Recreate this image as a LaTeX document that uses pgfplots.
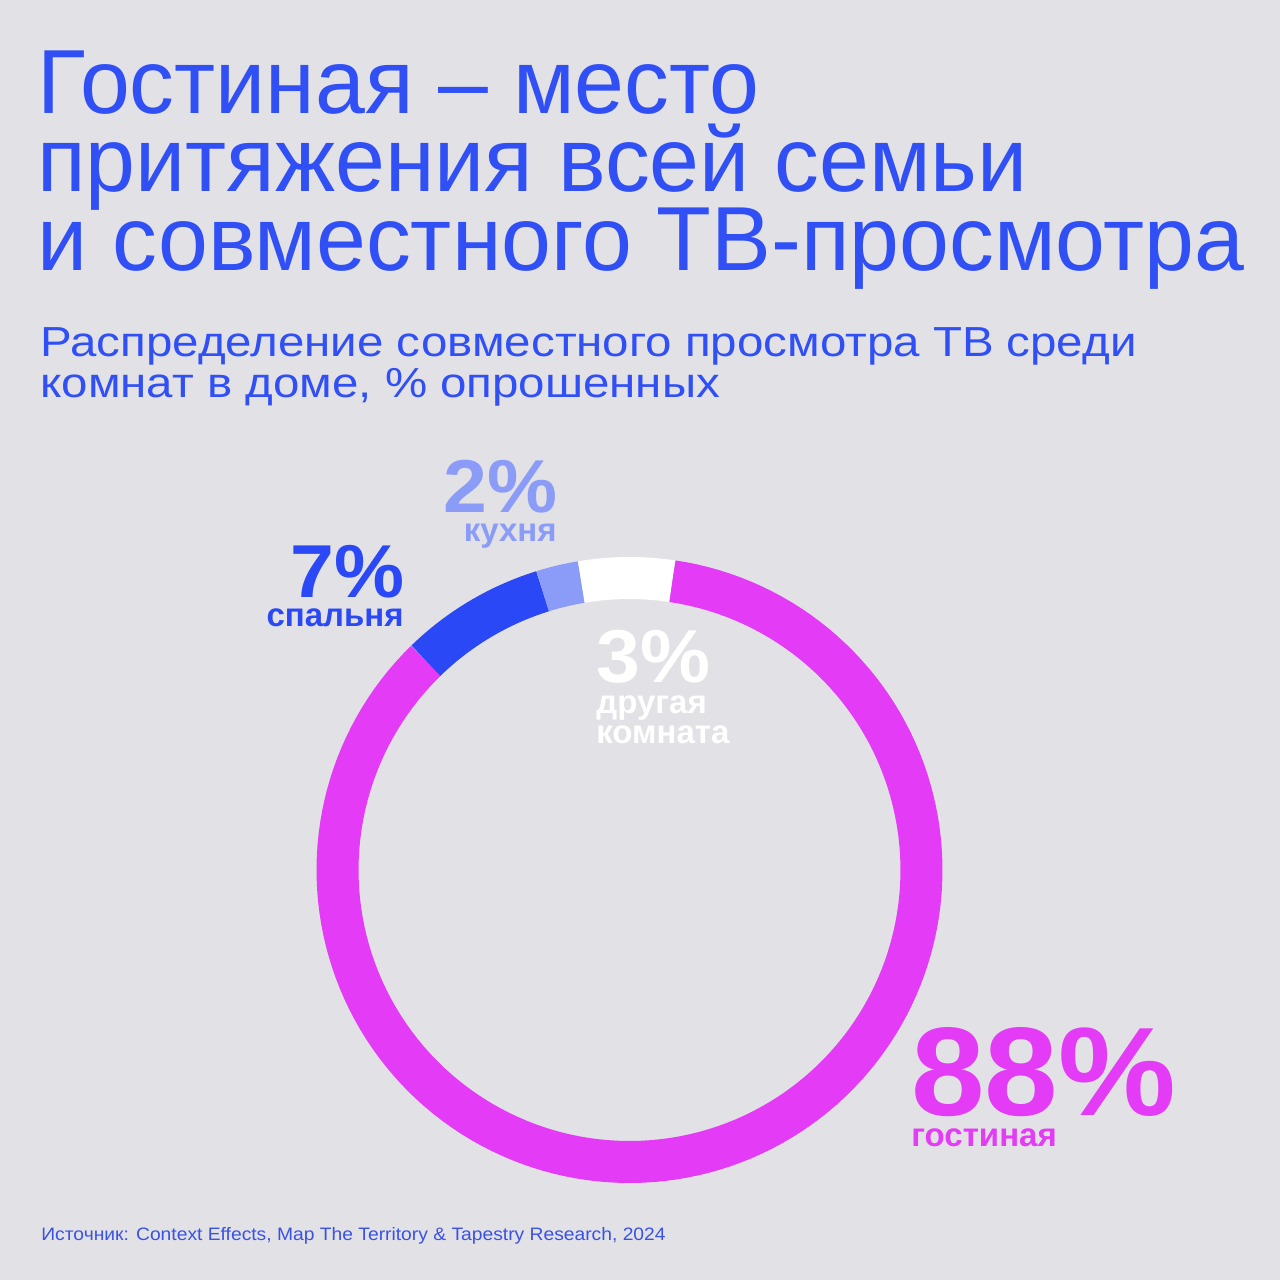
\documentclass[border=0pt]{standalone}
\usepackage{fontspec}
\setmainfont{Liberation Sans}
\newfontfamily\titlefont{Liberation Sans}[FakeStretch=0.985]
\newfontfamily\subfont{Liberation Sans}[FakeStretch=1.13]
\newfontfamily\srcfont{Liberation Sans}[FakeStretch=1.07]
\newfontfamily\bigfont{Liberation Sans}[FakeStretch=1.05]
\usepackage{pgfplots}
\pgfplotsset{compat=1.18}
\usepackage{pgfplotstable}

\definecolor{bg}{HTML}{E2E1E6}
\definecolor{titleblue}{HTML}{3050F6}
\definecolor{srcblue}{HTML}{3A52E4}
\definecolor{pinkc}{HTML}{E43BF6}
\definecolor{bedc}{HTML}{2B48F7}
\definecolor{kitc}{HTML}{8A9CF8}

% share of respondents (label) and the arc each room takes in the drawing (degrees, counter-clockwise from east)
\pgfplotstableread{
room     pct  a0     a1
living   88   134.2  441.6
bedroom  7    107.3  134.2
kitchen  2    99.5   107.3
other    3    81.6   99.5
}\rooms

\pgfplotstablegetelem{0}{a0}\of\rooms \edef\gA{\pgfplotsretval}
\pgfplotstablegetelem{0}{a1}\of\rooms \edef\gB{\pgfplotsretval}
\pgfplotstablegetelem{1}{a0}\of\rooms \edef\sA{\pgfplotsretval}
\pgfplotstablegetelem{1}{a1}\of\rooms \edef\sB{\pgfplotsretval}
\pgfplotstablegetelem{2}{a0}\of\rooms \edef\kA{\pgfplotsretval}
\pgfplotstablegetelem{2}{a1}\of\rooms \edef\kB{\pgfplotsretval}
\pgfplotstablegetelem{3}{a0}\of\rooms \edef\oA{\pgfplotsretval}
\pgfplotstablegetelem{3}{a1}\of\rooms \edef\oB{\pgfplotsretval}

\begin{document}
\begin{tikzpicture}
\begin{axis}[
  name=main,
  scale only axis, width=640pt, height=640pt,
  xmin=0, xmax=1280, ymin=0, ymax=1280, y dir=reverse,
  axis line style={draw=none}, xtick=\empty, ytick=\empty,
  axis background/.style={fill=bg},
  clip=false,
]
\addplot[draw=pinkc, line width=21pt, domain=\gA:\gB, samples=150, no marks] ({629.5+292*cos(x)}, {870-292*sin(x)});
\addplot[draw=bedc, line width=21pt, domain=\sA:\sB, samples=20, no marks] ({629.5+292*cos(x)}, {870-292*sin(x)});
\addplot[draw=kitc, line width=21pt, domain=\kA:\kB, samples=10, no marks] ({629.5+292*cos(x)}, {870-292*sin(x)});
\addplot[draw=white, line width=21pt, domain=\oA:\oB, samples=15, no marks] ({629.5+292*cos(x)}, {870-292*sin(x)});

% title
\begin{scope}[every node/.style={anchor=base west, inner sep=0pt, text=titleblue, font=\titlefont\fontsize{45.5}{40}\selectfont}]
\node at (axis cs:37,113) {Гостиная – место};
\node at (axis cs:37,191) {притяжения всей семьи};
\node at (axis cs:37,270) {и совместного ТВ-просмотра};
\end{scope}
\begin{scope}[every node/.style={anchor=base west, inner sep=0pt, text=titleblue, font=\subfont\fontsize{21}{20}\selectfont}]
\node at (axis cs:40,356) {Распределение совместного просмотра ТВ среди};
\node at (axis cs:40,397) {комнат в доме, \% опрошенных};
\end{scope}
\node[anchor=base west, inner sep=0pt, text=srcblue, font=\srcfont\fontsize{9}{10}\selectfont] at (axis cs:41,1240) {Источник: Context Effects, Map The Territory \& Tapestry Research, 2024};

% labels
\node[anchor=base east, inner sep=0pt, text=kitc, font=\bigfont\bfseries\fontsize{37.5}{38}\selectfont] at (axis cs:558,512) {2\%};
\node[anchor=base east, inner sep=0pt, text=kitc, font=\bfseries\fontsize{16.5}{17}\selectfont] at (axis cs:557,541) {кухня};
\node[anchor=base east, inner sep=0pt, text=bedc, font=\bigfont\bfseries\fontsize{37.5}{38}\selectfont] at (axis cs:405,597) {7\%};
\node[anchor=base east, inner sep=0pt, text=bedc, font=\bfseries\fontsize{16.5}{17}\selectfont] at (axis cs:404,626) {спальня};
\node[anchor=base west, inner sep=0pt, text=white, font=\bigfont\bfseries\fontsize{37.5}{38}\selectfont] at (axis cs:596,682) {3\%};
\node[anchor=base west, inner sep=0pt, text=white, font=\bfseries\fontsize{16.5}{17}\selectfont] at (axis cs:596,713) {другая};
\node[anchor=base west, inner sep=0pt, text=white, font=\bfseries\fontsize{16.5}{17}\selectfont] at (axis cs:596,743) {комната};
\node[anchor=base west, inner sep=0pt, text=pinkc, font=\bigfont\bfseries\fontsize{63}{64}\selectfont] at (axis cs:911,1115) {88\%};
\node[anchor=base west, inner sep=0pt, text=pinkc, font=\bfseries\fontsize{16.5}{17}\selectfont] at (axis cs:911,1146) {гостиная};
\end{axis}
\pgfresetboundingbox
\path[use as bounding box] (main.south west) rectangle (main.north east);
\end{tikzpicture}
\end{document}
